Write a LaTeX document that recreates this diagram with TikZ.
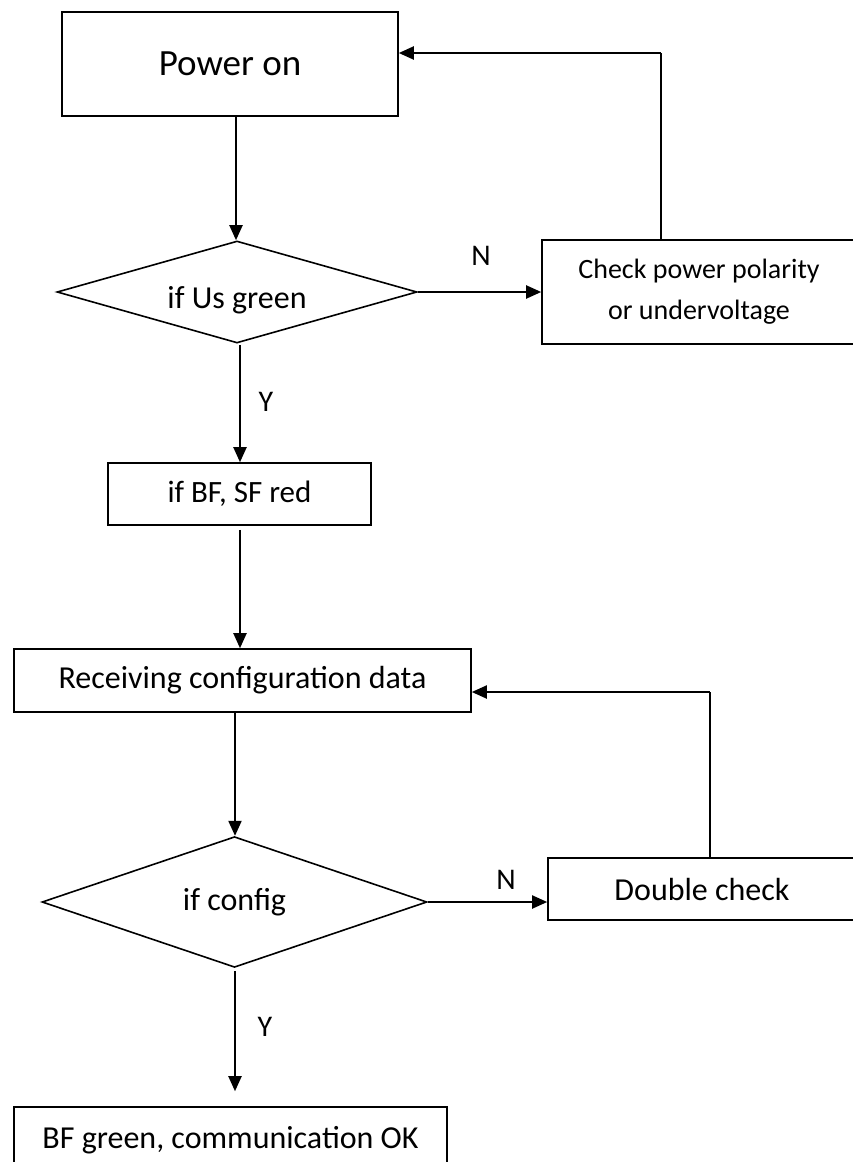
\documentclass[tikz,border=0pt]{standalone}
\usepackage{fontspec}
\setmainfont{Carlito}
\usetikzlibrary{shapes.geometric,arrows.meta}
\begin{document}
\begin{tikzpicture}[x=1pt,y=1pt,
  box/.style={draw,line width=1.6pt,rectangle,inner sep=0pt,align=center},
  dia/.style={draw,line width=1.6pt,diamond,inner sep=0pt},
  arr/.style={line width=2pt,-{Triangle[length=15pt,width=13pt]}},
  fb/.style={line width=1.5pt},
  lbl/.style={font=\fontsize{30}{32}\selectfont,inner sep=0pt},
  txt/.style={font=\fontsize{32}{34}\selectfont}]
\useasboundingbox (0,0) rectangle (852,-1162);
\fill[white] (0,0) rectangle (852,-1162);

\node[box,minimum width=336pt,minimum height=104pt,font=\fontsize{37}{40}\selectfont] (power) at (230,-64) {Power on};
\node[dia,minimum width=360pt,minimum height=102pt] (d1) at (237,-292) {};
\node[txt] (d1t) at (237,-300) {if Us green};
\node[box,minimum width=314pt,minimum height=104pt,font=\fontsize{28}{41}\selectfont] (check) at (699,-292) {Check power polarity\\or undervoltage};
\node[box,minimum width=263pt,minimum height=62pt,txt,font=\fontsize{31}{34}\selectfont] (bf) at (239.5,-494) {if BF, SF red};
\node[box,minimum width=457pt,minimum height=63pt,txt] (recv) at (242.5,-680.5) {Receiving configuration data};
\node[dia,minimum width=385pt,minimum height=124pt,txt] (d2) at (234.5,-902) {if config};
\node[box,minimum width=308pt,minimum height=62pt,txt] (dc) at (702,-889) {Double check};
\node[box,minimum width=433pt,minimum height=66pt,txt] (ok) at (230.5,-1140) {BF green, communication OK};

\node[lbl] (n1) at (481,-256) {N};
\node[lbl] (y1) at (266,-402) {Y};
\node[lbl] (n2) at (506,-880) {N};
\node[lbl] (y2) at (265,-1027) {Y};

\coordinate (c1) at (661,-53);
\coordinate (c2) at (710,-692);
\coordinate (x1) at (236,0);
\coordinate (x2) at (240,0);
\coordinate (x3) at (235,0);

\draw[arr] (power.south -| x1) -- (d1.north -| x1);
\draw[arr] (d1.east) -- (check.west);
\draw[fb] (check.north -| c1) -- (c1);
\draw[arr] (c1) -- (c1 -| power.east);
\draw[arr] ([yshift=-1pt]d1.south -| x2) -- (bf.north -| x2);
\draw[arr] ([yshift=-4pt]bf.south -| x2) -- (recv.north -| x2);
\draw[arr] (recv.south -| x3) -- (d2.north -| x3);
\draw[arr] (d2.east) -- (d2.east -| dc.west);
\draw[fb] (dc.north -| c2) -- (c2);
\draw[arr] (c2) -- (c2 -| recv.east);
\draw[arr] ([yshift=-3pt]d2.south -| x3) -- ([yshift=15pt]ok.north -| x3);
\end{tikzpicture}
\end{document}
